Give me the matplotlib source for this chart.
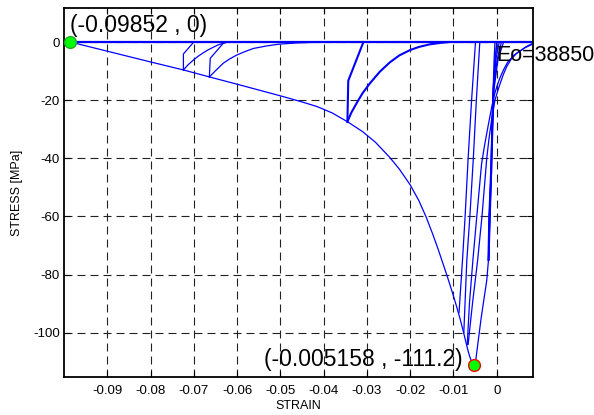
import numpy as np
import matplotlib
matplotlib.use("Agg")
import matplotlib.pyplot as plt

plt.rcParams["font.family"] = ["Liberation Sans", "DejaVu Sans"]
plt.rcParams["axes.unicode_minus"] = False

# ---- datos (strain, stress [MPa]) ----

# rama ascendente hasta el pico
asc_strain = [0.0, -0.0004, -0.0008, -0.0011, -0.0013, -0.0017, -0.0019, -0.0023, -0.0030,
              -0.0036, -0.0042, -0.0048, -0.005158]
asc_stress = [0.0, -8.0, -16.0, -30.0, -45.0, -60.0, -75.0, -82.0, -89.0,
              -95.0, -102.0, -109.0, -111.2]

# rama de ablandamiento (desde el pico)
env_strain = [-0.005158, -0.0055, -0.0058, -0.0062, -0.0066, -0.0071, -0.0078, -0.0085, -0.0092,
              -0.0100, -0.0108, -0.0116, -0.0125, -0.0135, -0.0148, -0.0163, -0.0180, -0.0200,
              -0.0225, -0.0247, -0.0280, -0.0310, -0.0345, -0.0380, -0.0415, -0.0450, -0.0500,
              -0.0550, -0.0600, -0.0664, -0.0724, -0.0800, -0.0900, -0.09852]
env_stress = [-111.2, -110.7, -109.9, -108.3, -106.3, -103.3, -99.0, -95.0, -91.3,
              -87.3, -83.5, -79.8, -75.8, -71.4, -66.0, -60.2, -54.5, -49.1,
              -43.7, -39.7, -34.5, -30.8, -27.4, -24.4, -22.2, -20.6, -18.5,
              -16.5, -14.5, -12.0, -9.6, -6.85, -3.15, 0.0]

# linea de tension nula
zero_strain = [-0.09852, 0.0089]
zero_stress = [0.0, 0.0]

# descargas / recargas cerca del pico
l1_strain = [-0.0087, -0.0079, -0.0073, -0.0066, -0.0058, -0.0049]
l1_stress = [-93.0, -75.0, -60.0, -40.0, -20.0, 0.0]
l2_strain = [-0.0076, -0.0069, -0.0062, -0.0054, -0.0047, -0.0039]
l2_stress = [-100.0, -75.0, -60.0, -40.0, -20.0, 0.0]

r1_strain = [0.0089, 0.0065, 0.0040, 0.0025, 0.0016, 0.0007, 0.0000, -0.0006, -0.0011, -0.0020,
             -0.0028, -0.0035, -0.0046, -0.0055, -0.0063, -0.0068]
r1_stress = [-0.3, -2.0, -4.5, -7.0, -9.5, -12.5, -15.5, -18.5, -22.0, -29.0,
             -35.5, -42.0, -60.0, -75.0, -90.0, -104.0]
r2_strain = [0.0089, 0.0068, 0.0046, 0.0033, 0.0023, 0.0015, 0.0008, 0.0002, -0.0004, -0.0012,
             -0.0018, -0.0023, -0.0034, -0.0044, -0.0056, -0.0066]
r2_stress = [0.0, -1.6, -3.9, -6.0, -8.5, -11.3, -14.3, -17.0, -20.0, -27.0,
             -33.5, -40.0, -60.0, -75.0, -90.0, -104.0]

# haz de recargas que arrancan cerca de deformacion cero
bundle_strain = [
    [-0.0004, -0.0006, -0.0008, -0.0011, -0.0014, -0.0018, -0.0020],
    [0.0001, -0.0004, -0.0008, -0.0011, -0.0013, -0.0017, -0.0019],
    [0.0006, -0.0002, -0.0007, -0.0010, -0.0013, -0.0016, -0.0019],
    [0.0011, 0.0001, -0.0007, -0.0010, -0.0012, -0.0016, -0.0018],
    [0.0016, 0.0003, -0.0006, -0.0009, -0.0012, -0.0015, -0.0018],
]
bundle_stress = [0.0, -6.0, -16.0, -30.0, -45.0, -60.0, -75.0]

# ciclo en (-0.0345, -27.4)
u3_strain = [-0.0345, -0.0343, -0.0308]
u3_stress = [-27.4, -13.3, 0.0]
c3_strain = [-0.0110, -0.0130, -0.0155, -0.0180, -0.0200, -0.0225, -0.0247, -0.0270,
             -0.0293, -0.0310, -0.0324, -0.0336, -0.0345]
c3_stress = [0.0, -0.3, -0.8, -1.7, -2.75, -4.6, -7.0, -10.2,
             -14.2, -17.6, -21.1, -24.3, -27.4]

# ciclo en (-0.0664, -12.1)
u2_strain = [-0.0664, -0.0662, -0.0632, -0.0625]
u2_stress = [-12.0, -5.6, -0.45, 0.0]
c2_strain = [-0.0400, -0.0439, -0.0460, -0.0501, -0.0530, -0.0562, -0.0582, -0.0601,
             -0.0617, -0.0632, -0.0648, -0.0664]
c2_stress = [0.0, -0.2, -0.3, -0.7, -1.3, -2.2, -3.3, -4.5,
             -5.8, -7.3, -9.6, -12.0]

# ciclo en (-0.0724, -9.6)
u1_strain = [-0.0724, -0.0724, -0.0700]
u1_stress = [-9.6, -4.1, 0.0]
c1_strain = [-0.0620, -0.0632, -0.0644, -0.0655, -0.0667, -0.0678, -0.0690, -0.0701, -0.0713, -0.0724]
c1_stress = [0.0, -0.4, -1.0, -1.8, -2.7, -3.7, -4.9, -6.2, -7.8, -9.6]

# puntos marcados
p_start = (-0.09852, 0.0)
p_peak = (-0.005158, -111.2)
Eo = 38850

xticks = [-0.09, -0.08, -0.07, -0.06, -0.05, -0.04, -0.03, -0.02, -0.01, 0]
xtick_labels = ["-0.09", "-0.08", "-0.07", "-0.06", "-0.05", "-0.04", "-0.03", "-0.02", "-0.01", "0"]
yticks = [-100, -80, -60, -40, -20, 0]

# ---- figura ----
fig = plt.figure(figsize=(5.94, 4.15), dpi=100)
ax = fig.add_axes([0.1077, 0.0916, 0.7904, 0.8891])

azul = (0, 0, 1)
ax.plot(zero_strain, zero_stress, color=azul, lw=1.6)
ax.plot(asc_strain, asc_stress, color=azul, lw=0.9)
ax.plot(env_strain, env_stress, color=azul, lw=0.9)
for xs, ys in [(l1_strain, l1_stress), (l2_strain, l2_stress),
               (r1_strain, r1_stress), (r2_strain, r2_stress)]:
    ax.plot(xs, ys, color=azul, lw=0.9)
for xs in bundle_strain:
    ax.plot(xs, bundle_stress, color=azul, lw=0.9)
ax.plot(u3_strain, u3_stress, color=azul, lw=1.5)
ax.plot(c3_strain, c3_stress, color=azul, lw=1.5)
for xs, ys in [(u2_strain, u2_stress), (c2_strain, c2_stress),
               (u1_strain, u1_stress), (c1_strain, c1_stress)]:
    ax.plot(xs, ys, color=azul, lw=0.9)

ax.plot(*p_start, marker="o", ms=8.5, mfc=(0, 1, 0), mec="#22aa22", mew=1, clip_on=False, zorder=5)
ax.plot(*p_peak, marker="o", ms=8.5, mfc=(0, 1, 0), mec="red", mew=1, clip_on=False, zorder=5)

ax.annotate(f"({p_start[0]:.5f} , {p_start[1]:g})", xy=p_start, xytext=(0, 5),
            textcoords="offset pixels", ha="left", va="bottom", fontsize=16.5)
ax.annotate(f"({p_peak[0]:.6f} , {p_peak[1]:g})", xy=p_peak, xytext=(-12, 6),
            textcoords="offset pixels", ha="right", va="center", fontsize=16.5)
ax.text(0.0, -4.5, f"Eo={Eo}", ha="left", va="center", fontsize=15.5, clip_on=False)

ax.set_xlim(-0.1, 0.0085)
ax.set_ylim(-115.2, 11.7)
ax.set_xticks(xticks)
ax.set_xticklabels(xtick_labels)
ax.set_yticks(yticks)

ax.grid(True, color="#222222", linestyle=(0, (7.2, 4.5)), lw=0.8)
ax.set_axisbelow(True)
ax.tick_params(direction="in", length=4, top=True, right=True, labelsize=9.5, width=0.8)
ax.tick_params(axis="x", pad=6)
ax.tick_params(axis="y", pad=3)
for sp in ax.spines.values():
    sp.set_linewidth(1.3)

ax.set_xlabel("STRAIN", fontsize=9)
ax.set_ylabel("STRESS [MPa]", fontsize=9)
ax.xaxis.set_label_coords(0.5, -0.062)
ax.yaxis.set_label_coords(-0.087, 0.5)

fig.savefig("out.png", dpi=100)
